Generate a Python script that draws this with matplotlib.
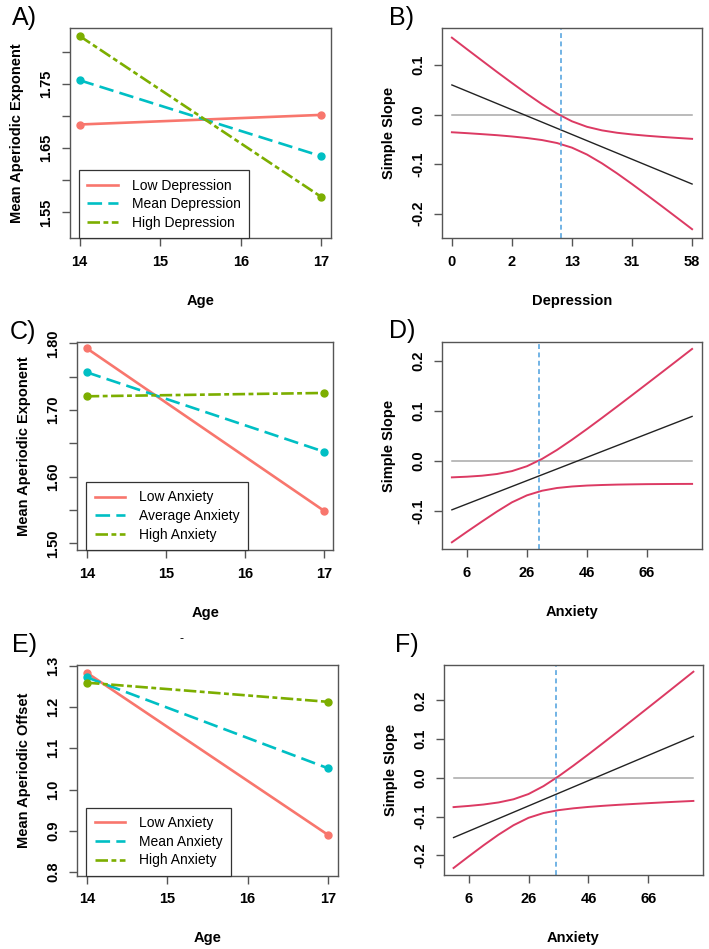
import matplotlib
matplotlib.use("Agg")
import matplotlib.pyplot as plt

plt.rcParams['font.family'] = ['Liberation Sans', 'DejaVu Sans']
plt.rcParams['lines.scale_dashes'] = False

# interaction plots (age x group)
ages = [14, 17]
dep_labels = ['Low Depression', 'Mean Depression', 'High Depression']
dep_low = [1.687, 1.702]
dep_mean = [1.756, 1.6375]
dep_high = [1.825, 1.574]

anx_labels = ['Low Anxiety', 'Average Anxiety', 'High Anxiety']
anx_low = [1.7925, 1.549]
anx_mean = [1.7565, 1.6375]
anx_high = [1.7205, 1.7255]

off_labels = ['Low Anxiety', 'Mean Anxiety', 'High Anxiety']
off_low = [1.283, 0.890]
off_mean = [1.272, 1.0515]
off_high = [1.259, 1.2126]

# Johnson-Neyman plots
b_ticklabels = ['0', '2', '13', '31', '58']
b_x = [0, 0.25, 0.5, 0.75, 1.0, 1.25, 1.5, 1.75, 2.0, 2.25, 2.5, 2.75, 3.0, 3.25, 3.5, 3.75, 4.0]
b_upper = [0.1555, 0.1323, 0.1093, 0.0864, 0.0640, 0.0421, 0.0212, 0.0022, -0.0134, -0.0245,
           -0.0317, -0.0365, -0.0399, -0.0426, -0.0449, -0.0469, -0.0488]
b_lower = [-0.0355, -0.0373, -0.0393, -0.0414, -0.0440, -0.0471, -0.0512, -0.0572, -0.0666,
           -0.0805, -0.0983, -0.1185, -0.1401, -0.1624, -0.1851, -0.2081, -0.2312]
b_line_x = [0, 4]
b_line = [0.060, -0.140]
b_jn = 1.81

d_x = [1, 6, 11, 16, 21, 26, 31, 36, 41, 46, 51, 56, 61, 66, 71, 76, 81]
d_upper = [-0.0330, -0.0317, -0.0297, -0.0263, -0.0205, -0.0107, 0.0038, 0.0219, 0.0423,
           0.0638, 0.0860, 0.1086, 0.1315, 0.1545, 0.1776, 0.2008, 0.2241]
d_lower = [-0.1630, -0.1420, -0.1215, -0.1015, -0.0830, -0.0690, -0.0598, -0.0543, -0.0513,
           -0.0494, -0.0483, -0.0475, -0.0470, -0.0466, -0.0464, -0.0462, -0.0461]
d_line_x = [1, 81]
d_line = [-0.098, 0.089]
d_jn = 30

f_x = [1, 6, 11, 16, 21, 26, 31, 36, 41, 46, 51, 56, 61, 66, 71, 76, 81]
f_upper = [-0.0755, -0.0725, -0.0688, -0.0635, -0.0553, -0.0418, -0.0214, 0.0038, 0.0316,
           0.0606, 0.0904, 0.1205, 0.1509, 0.1814, 0.2120, 0.2428, 0.2736]
f_lower = [-0.2325, -0.2029, -0.1740, -0.1466, -0.1222, -0.1031, -0.0908, -0.0834, -0.0786,
           -0.0750, -0.0721, -0.0696, -0.0674, -0.0653, -0.0633, -0.0614, -0.0596]
f_line_x = [1, 81]
f_line = [-0.154, 0.107]
f_jn = 35.1

RED = '#F8766D'
CYAN = '#00BFC4'
GREEN = '#7CAE00'
CI = '#DC3A63'
FRAME = '#555555'
FS = 10.5

fig = plt.figure(figsize=(7.09, 9.49), dpi=100)


def style_axes(ax):
    for s in ax.spines.values():
        s.set_color(FRAME)
        s.set_linewidth(1.0)
    ax.tick_params(length=6, width=1.0, color=FRAME, pad=6, labelsize=FS)
    for lab in ax.get_xticklabels() + ax.get_yticklabels():
        lab.set_fontweight('bold')
    for lab in ax.get_yticklabels():
        lab.set_rotation(90)
        lab.set_va('center')


def letter(x_px, y_px, txt):
    fig.text(x_px / 709, 1 - y_px / 949, txt, fontsize=18, va='baseline')


def interaction(rect, series, labels, ylim, yticks, ylabels, ylab):
    ax = fig.add_axes(rect)
    styles = [dict(color=RED, ls='-'),
              dict(color=CYAN, dashes=(10.5, 4.5)),
              dict(color=GREEN, dashes=(9, 2.5, 3.5, 2.5))]
    for vals, lab, st in zip(series, labels, styles):
        ax.plot(ages, vals, lw=1.9, label=lab, **st)
        ax.plot(ages, vals, ls='none', marker='o', ms=5, color=st['color'])
    ax.set_xlim(13.88, 17.12)
    ax.set_ylim(*ylim)
    ax.set_xticks([14, 15, 16, 17])
    ax.set_yticks(yticks)
    ax.set_yticklabels(ylabels)
    ax.set_xlabel('Age', fontweight='bold', fontsize=FS, labelpad=18)
    ax.set_ylabel(ylab, fontweight='bold', fontsize=FS, labelpad=11)
    leg = ax.legend(loc='lower left', bbox_to_anchor=(0.035, 0), borderaxespad=0,
                    fontsize=10, fancybox=False, framealpha=1, edgecolor='#333333',
                    handlelength=2.2, handletextpad=1.0, labelspacing=0.33,
                    borderpad=0.6)
    leg.get_frame().set_linewidth(0.9)
    style_axes(ax)
    return ax


def jn_panel(rect, x, upper, lower, lx, ly, jn, xlim, ylim, xticks, yticks, xlab, xticklabels=None):
    ax = fig.add_axes(rect)
    ax.plot([x[0], x[-1]], [0, 0], color='#A8A8A8', lw=1.1)
    ax.plot(lx, ly, color='#222222', lw=1.0)
    ax.plot(x, upper, color=CI, lw=1.4)
    ax.plot(x, lower, color=CI, lw=1.4)
    ax.axvline(jn, color='#5AA7E0', lw=1.2, dashes=(3.5, 2.5))
    ax.set_xlim(*xlim)
    ax.set_ylim(*ylim)
    ax.set_xticks(xticks)
    if xticklabels is not None:
        ax.set_xticklabels(xticklabels)
    ax.set_yticks(yticks)
    ax.set_yticklabels([f'{v:.1f}' for v in yticks])
    ax.set_xlabel(xlab, fontweight='bold', fontsize=FS, labelpad=18)
    ax.set_ylabel('Simple Slope', fontweight='bold', fontsize=FS, labelpad=11)
    style_axes(ax)
    return ax


interaction([0.0987, 0.7492, 0.3682, 0.2213], [dep_low, dep_mean, dep_high], dep_labels,
            (1.51, 1.8375), [1.55, 1.60, 1.65, 1.70, 1.75, 1.80],
            ['1.55', '', '1.65', '', '1.75', ''], 'Mean Aperiodic Exponent')
jn_panel([0.6238, 0.7492, 0.3659, 0.2213], b_x, b_upper, b_lower, b_line_x, b_line, b_jn,
         (-0.16, 4.16), (-0.249, 0.175), [0, 1, 2, 3, 4], [-0.2, -0.1, 0.0, 0.1],
         'Depression', b_ticklabels)

interaction([0.109, 0.4205, 0.361, 0.2195], [anx_low, anx_mean, anx_high], anx_labels,
            (1.49, 1.8025), [1.50, 1.55, 1.60, 1.65, 1.70, 1.75, 1.80],
            ['1.50', '', '1.60', '', '1.70', '', '1.80'], 'Mean Aperiodic Exponent')
jn_panel([0.6238, 0.4212, 0.3659, 0.2188], d_x, d_upper, d_lower, d_line_x, d_line, d_jn,
         (-2.2, 84.2), (-0.177, 0.2387), [6, 26, 46, 66], [-0.1, 0.0, 0.1, 0.2],
         'Anxiety')

interaction([0.109, 0.0772, 0.3673, 0.2221], [off_low, off_mean, off_high], off_labels,
            (0.791, 1.302), [0.8, 0.9, 1.0, 1.1, 1.2, 1.3],
            ['0.8', '0.9', '1.0', '1.1', '1.2', '1.3'], 'Mean Aperiodic Offset')
jn_panel([0.6262, 0.078, 0.3653, 0.2213], f_x, f_upper, f_lower, f_line_x, f_line, f_jn,
         (-2.2, 84.2), (-0.2505, 0.291), [6, 26, 46, 66], [-0.2, -0.1, 0.0, 0.1, 0.2],
         'Anxiety')

letter(12, 25, 'A)')
letter(389, 25, 'B)')
letter(10, 339, 'C)')
letter(389, 338, 'D)')
letter(12, 652, 'E)')
letter(395, 652, 'F)')

fig.text(0.2563, 0.3267, '-', fontsize=9, ha='center', va='center')

fig.savefig('out.png', dpi=100)
